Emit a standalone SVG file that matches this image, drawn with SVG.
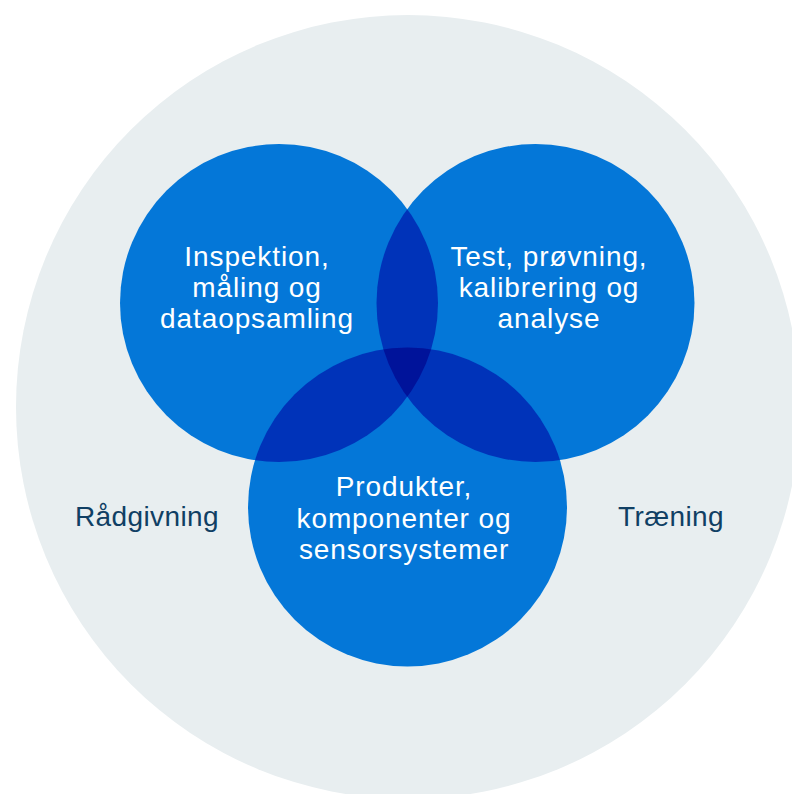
<svg xmlns="http://www.w3.org/2000/svg" width="792" height="794" viewBox="0 0 792 794">
  <style>
    .c { fill: #0477d8; }
    .o2 { fill: #0033b9; }
    .o3 { fill: #00139a; }
    .lbl { font-family: "Liberation Sans", Arial, sans-serif; font-size: 28px; letter-spacing: 0.9px; fill: #ffffff; text-anchor: middle; }
    .out { font-family: "Liberation Sans", Arial, sans-serif; font-size: 28px; letter-spacing: 0.4px; fill: #103f64; text-anchor: middle; }
  </style>
  <defs>
    <clipPath id="clipL"><circle cx="279" cy="303" r="159"/></clipPath>
    <clipPath id="clipR"><circle cx="535.5" cy="303" r="159"/></clipPath>
  </defs>
  <rect width="792" height="794" fill="#ffffff"/>
  <g id="outer">
    <circle cx="408" cy="407" r="392" fill="#e8eef0"/>
    <text class="out" x="147" y="526">Rådgivning</text>
    <text class="out" x="671" y="526">Træning</text>
  </g>
  <g id="node-left">
    <circle class="c" cx="279" cy="303" r="159"/>
  </g>
  <g id="node-right">
    <circle class="c" cx="535.5" cy="303" r="159"/>
  </g>
  <g id="node-bottom">
    <circle class="c" cx="407.5" cy="507" r="159.5"/>
  </g>
  <g id="overlaps">
    <circle class="o2" cx="535.5" cy="303" r="159" clip-path="url(#clipL)"/>
    <circle class="o2" cx="407.5" cy="507" r="159.5" clip-path="url(#clipL)"/>
    <circle class="o2" cx="407.5" cy="507" r="159.5" clip-path="url(#clipR)"/>
    <g clip-path="url(#clipL)">
      <circle class="o3" cx="407.5" cy="507" r="159.5" clip-path="url(#clipR)"/>
    </g>
  </g>
  <g id="labels">
    <text class="lbl" x="257" y="266">Inspektion,</text>
    <text class="lbl" x="257" y="297">måling og</text>
    <text class="lbl" x="257" y="328">dataopsamling</text>
    <text class="lbl" x="549" y="266">Test, prøvning,</text>
    <text class="lbl" x="549" y="297">kalibrering og</text>
    <text class="lbl" x="549" y="328">analyse</text>
    <text class="lbl" x="404" y="496">Produkter,</text>
    <text class="lbl" x="404" y="528">komponenter og</text>
    <text class="lbl" x="404" y="559">sensorsystemer</text>
  </g>
</svg>
